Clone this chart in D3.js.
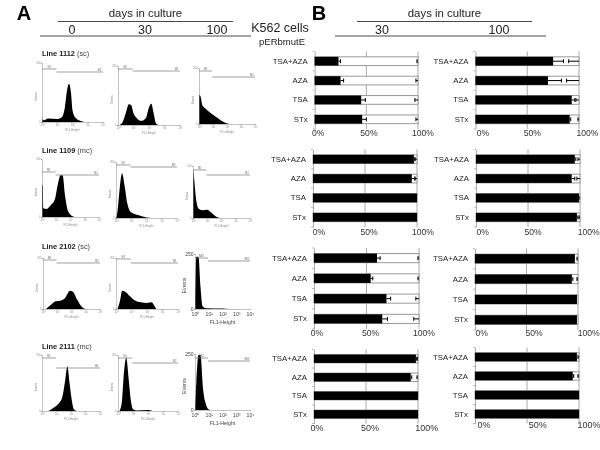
<!DOCTYPE html>
<html><head><meta charset="utf-8">
<script src="https://cdn.jsdelivr.net/npm/d3@7"></script>
<style>html,body{margin:0;background:#fff}svg{display:block}text{font-family:"Liberation Sans",Arial,sans-serif}</style>
</head><body><svg id="c" width="600" height="450"></svg>
<script>
// ---------- data: panel B
const categories = ["TSA+AZA","AZA","TSA","STx"];
const ticksB = [0,50,100];
// % positive (black part), its error, and the error of the remainder, per category
const r1Left  = [23,25,45,46], r1LeftErr  = [2,3,4,4], r1LeftEnd  = [1,2,3,2];
const r1Right = [75,70,93,91], r1RightErr = [10,13,3,1], r1RightEnd = [10,12,3,1];
const r2Left  = [97,95,100,100], r2LeftErr  = [1,3,0,0], r2LeftEnd  = [2,2,0,0];
const r2Right = [95,92,99,97], r2RightErr = [1,3,0,1], r2RightEnd = [2,3,1,1];
const r3Left  = [60,54,69,65], r3LeftErr  = [3,2,4,5], r3LeftEnd  = [1,1,3,5];
const r3Right = [97,94,99,99], r3RightErr = [0,1,0,0], r3RightEnd = [1,1,0,0];
const r4Left  = [98,93,100,100], r4LeftErr  = [1,1,0,0], r4LeftEnd  = [1,1,0,0];
const r4Right = [98,94,100,100], r4RightErr = [0,1,0,0], r4RightEnd = [1,1,0,0];

// ---------- data: panel A, [log10 FL1, share of axis height]
const h1112d0   = [[0,.06],[.1,.03],[.4,.06],[1,.05],[1.3,.08],[1.5,.25],[1.65,.55],[1.77,.65],[1.9,.5],[2,.2],[2.2,.07],[2.5,.02],[2.8,0]];
const h1112d30  = [[.1,0],[.3,.05],[.5,.2],[.7,.35],[.85,.34],[1,.2],[1.2,.12],[1.5,.07],[1.8,.12],[2,.3],[2.15,.36],[2.3,.2],[2.45,.03],[2.6,0]];
const h1112d100 = [[0,.52],[.1,.5],[.25,.33],[.5,.27],[.8,.2],[1.2,.13],[1.6,.06],[2,.01],[2.2,0]];
const h1109d0   = [[0,.55],[.05,.55],[.1,.15],[.3,.14],[.6,.2],[.9,.3],[1.1,.55],[1.3,.72],[1.45,.72],[1.6,.4],[1.8,.12],[2,.04],[2.3,0]];
const h1109d30  = [[0,0],[.1,.12],[.25,.55],[.4,.8],[.55,.6],[.75,.25],[1,.1],[1.5,.05],[2,.01],[2.3,0]];
const h1109d100 = [[0,.95],[.1,.7],[.2,.4],[.4,.18],[.7,.15],[1,.16],[1.3,.1],[1.6,.03],[1.9,0]];
const h2102d0   = [[.2,0],[.5,.07],[.9,.15],[1.2,.16],[1.5,.2],[1.9,.36],[2.1,.34],[2.4,.18],[2.7,.05],[3,0]];
const h2102d30  = [[.1,0],[.25,.15],[.4,.36],[.6,.34],[.9,.25],[1.2,.17],[1.6,.13],[2,.12],[2.3,.13],[2.5,.05],[2.6,0]];
const h2102d100 = [[0,.1],[.1,.95],[.25,.95],[.4,.4],[.55,.05],[.8,.015],[2,.01],[2.5,0]];
const h2111d0   = [[.45,0],[.8,.06],[1.1,.12],[1.4,.25],[1.6,.55],[1.75,.8],[1.9,.5],[2.05,.2],[2.2,.03],[2.4,0]];
const h2111d30  = [[.1,0],[.25,.15],[.4,.7],[.55,.95],[.7,.6],[.85,.2],[1,.03],[1.2,.01],[2,.02],[2.3,0]];
const h2111d100 = [[0,.05],[.1,.5],[.25,.98],[.4,.98],[.6,.35],[.8,.1],[1,.01],[1.2,0]];
const decades = [0,1,2,3,4];
const lineNames = [["Line 1112","(sc)"],["Line 1109","(mc)"],["Line 2102","(sc)"],["Line 2111","(mc)"]];

// ---------- layout
const svg = d3.select("#c");
const defs = svg.append("defs");
defs.append("filter").attr("id","soft").append("feGaussianBlur").attr("stdDeviation",.4);
defs.append("filter").attr("id","soft2").append("feGaussianBlur").attr("stdDeviation",.3);
const ink = "#222";

function label(g,x,y,t,size,o={}){
  return g.append("text").attr("x",x).attr("y",y).text(t).attr("font-size",size)
    .attr("text-anchor",o.anchor||"middle").attr("font-weight",o.weight||"normal").attr("fill",o.fill||ink);
}
const head = svg.append("g").attr("filter","url(#soft2)");
function rule(x1,x2,y){head.append("line").attr("x1",x1).attr("x2",x2).attr("y1",y).attr("y2",y).attr("stroke","#333").attr("stroke-width",.9);}
label(head,24,20,"A",20,{weight:"bold",fill:"#000"});
label(head,319,20,"B",20,{weight:"bold",fill:"#000"});
label(head,145.5,17,"days in culture",11.4);
rule(58,233,21.5); rule(40,251,36);
label(head,72,34,"0",12.5); label(head,145,34,"30",12.5); label(head,217,34,"100",12.5);
label(head,280,32,"K562 cells",12.5);
label(head,282,45,"pERbmutE",9.5);
label(head,444.5,17,"days in culture",11.4);
rule(357,532,21.5); rule(335,546,36);
label(head,382,34,"30",12.5); label(head,499,34,"100",12.5);

// ---------- panel A
const histRows = [
 {name:0,y:56,cells:[
  {d:h1112d0,x:[42,103],b:122,t:63,g1:69,g2:72},
  {d:h1112d30,x:[118,180],b:125,t:66,g1:69,g2:71},
  {d:h1112d100,x:[199,255],b:124,t:68,g1:71,g2:77}]},
 {name:1,y:153,cells:[
  {d:h1109d0,x:[42,99],b:217,t:159,g1:172,g2:175},
  {d:h1109d30,x:[116,177],b:218,t:162,g1:165,g2:167},
  {d:h1109d100,x:[193,250],b:218,t:166,g1:170,g2:175}]},
 {name:2,y:249,cells:[
  {d:h2102d0,x:[43,100],b:309,t:258,g1:260,g2:263},
  {d:h2102d30,x:[116,178],b:309,t:258,g1:259,g2:263},
  {d:h2102d100,x:[195,250],b:309,t:254,g1:258,g2:261,big:true}]},
 {name:3,y:349,cells:[
  {d:h2111d0,x:[42,100],b:411,t:355,g1:358,g2:368},
  {d:h2111d30,x:[118,178],b:411,t:355,g1:358,g2:363},
  {d:h2111d100,x:[195,250],b:410,t:354,g1:358,g2:361,big:true}]}
];
const histG = svg.append("g").attr("filter","url(#soft)");
histRows.forEach(r=>{
  const n = head.append("text").attr("x",42).attr("y",r.y).attr("font-size",7.4).attr("fill",ink);
  n.append("tspan").attr("font-weight","bold").text(lineNames[r.name][0]);
  n.append("tspan").attr("fill","#444").text(" "+lineNames[r.name][1]);
  r.cells.forEach(c=>{
    const x = d3.scaleLinear().domain([0,4]).range(c.x);
    const y = d3.scaleLinear().domain([0,1]).range([c.b,c.t]);
    const g = histG.append("g");
    const size = c.big?5.2:2.8, col = c.big?"#444":"#888";
    g.append("path").datum(c.d).attr("fill","#000")
      .attr("d",d3.area().x(d=>x(d[0])).y0(y(0)).y1(d=>y(d[1])).curve(d3.curveMonotoneX));
    const ax = g.append("g").attr("transform",`translate(0,${c.b})`)
      .call(d3.axisBottom(x).tickValues(decades).tickSize(1).tickFormat(d=>"10"+"⁰¹²³⁴"[d]));
    ax.selectAll("path,line").attr("stroke","#888").attr("stroke-width",.5);
    ax.selectAll("text").attr("font-size",size).attr("fill",col).attr("dy",0).attr("y",size+1.5);
    const ay = g.append("g").attr("transform",`translate(${c.x[0]},0)`)
      .call(d3.axisLeft(y).tickValues([0,1]).tickSize(1).tickFormat(d=>d?"250":"0"));
    ay.selectAll("path,line").attr("stroke","#888").attr("stroke-width",.5);
    ay.selectAll("text").attr("font-size",size-.2).attr("fill",col).attr("x",-1.5);
    label(g,(c.x[0]+c.x[1])/2,c.b+(c.big?15:9),"FL1-Height",size,{fill:col});
    g.append("text").attr("transform",`translate(${c.x[0]-(c.big?9:5)},${(c.b+c.t)/2+4}) rotate(-90)`)
      .attr("text-anchor","middle").attr("font-size",size).attr("fill",col).text("Events");
    const gate = (a,b,yy,t)=>{
      g.append("line").attr("x1",x(a)).attr("x2",x(b)).attr("y1",yy).attr("y2",yy).attr("stroke","#777").attr("stroke-width",.7);
      label(g,x(a*.5+b*.5+(t=="M2"?1.3:0)),yy-1.2,t,c.big?3.6:2.6,{fill:"#666"});
    };
    gate(0,.95,c.g1,"M1"); gate(.95,4,c.g2,"M2");
  });
});

// ---------- panel B
const panels = [
 {v:r1Left,e:r1LeftErr,z:r1LeftEnd,x:[314.7,418],y:[51.5,129],lab:133,off:[3.5,2.6,5]},
 {v:r1Right,e:r1RightErr,z:r1RightEnd,x:[475.5,579],y:[51.5,129],lab:133,off:[7.5,5,8.5]},
 {v:r2Left,e:r2LeftErr,z:r2LeftEnd,x:[313,417],y:[149.5,227],lab:232,off:[6,4,6]},
 {v:r2Right,e:r2RightErr,z:r2RightEnd,x:[476,580],y:[149.5,227],lab:232,off:[6.7,5,8.7]},
 {v:r3Left,e:r3LeftErr,z:r3LeftEnd,x:[314,419],y:[248,329],lab:333,off:[3,4,5]},
 {v:r3Right,e:r3RightErr,z:r3RightEnd,x:[475,578],y:[248.5,330],lab:333,off:[6.7,7.5,10.7]},
 {v:r4Left,e:r4LeftErr,z:r4LeftEnd,x:[314,418],y:[349.5,423.5],lab:428,fs:9,off:[3,4,8.7]},
 {v:r4Right,e:r4RightErr,z:r4RightEnd,x:[475,579],y:[347.5,423.5],lab:425,fs:9,off:[9,10.7,10]}
];
const barG = svg.append("g").attr("filter","url(#soft2)");
panels.forEach(p=>{
  const g = barG.append("g");
  const x = d3.scaleLinear().domain([0,100]).range(p.x);
  const y = d3.scaleBand().domain(categories).range(p.y).paddingInner(.55).paddingOuter(.275);
  g.selectAll(".grid").data(ticksB.slice(1)).join("line").attr("x1",d=>x(d)).attr("x2",d=>x(d))
    .attr("y1",p.y[0]).attr("y2",p.y[1]).attr("stroke","#aaa").attr("stroke-width",1);
  const ay = g.append("g").attr("transform",`translate(${p.x[0]},0)`)
    .call(d3.axisLeft(y).tickSize(0).tickPadding(7));
  ay.select("path").attr("stroke","#aaa").attr("stroke-width",1);
  ay.selectAll("text").attr("font-size",7.8).attr("fill",ink);
  ay.selectAll(".sep").data(d3.range(5)).join("line").attr("class","sep")
    .attr("x1",-2).attr("x2",0).attr("y1",i=>p.y[0]+i*y.step()).attr("y2",i=>p.y[0]+i*y.step())
    .attr("stroke","#aaa").attr("stroke-width",.8);
  g.selectAll(".rest").data(categories).join("rect").attr("x",x(0)).attr("width",x(100)-x(0))
    .attr("y",d=>y(d)).attr("height",y.bandwidth()).attr("fill","#fff").attr("stroke","#999").attr("stroke-width",1);
  g.selectAll(".pos").data(categories).join("rect").attr("x",x(0)).attr("y",d=>y(d))
    .attr("width",(d,i)=>x(p.v[i])-x(0)).attr("height",y.bandwidth()).attr("fill","#000");
  const whisker = (x1,x2,cy)=>{
    g.append("line").attr("x1",x1).attr("x2",x2).attr("y1",cy).attr("y2",cy).attr("stroke","#000").attr("stroke-width",1);
    g.append("line").attr("x1",x2).attr("x2",x2).attr("y1",cy-2).attr("y2",cy+2).attr("stroke","#000").attr("stroke-width",1);
  };
  categories.forEach((c,i)=>{
    const cy = y(c)+y.bandwidth()/2;
    if(p.e[i]) whisker(x(p.v[i]),x(p.v[i]+p.e[i]),cy);
    if(p.z[i]) whisker(x(100),x(100-p.z[i]),cy);
  });
  ticksB.forEach((t,i)=>{
    g.append("text").attr("x",x(t)+p.off[i]).attr("y",p.lab+3)
      .attr("text-anchor","middle").attr("font-size",p.fs||8.6).attr("fill","#333").text(d3.format("d")(t)+"%");
  });
});
</script></body></html>
